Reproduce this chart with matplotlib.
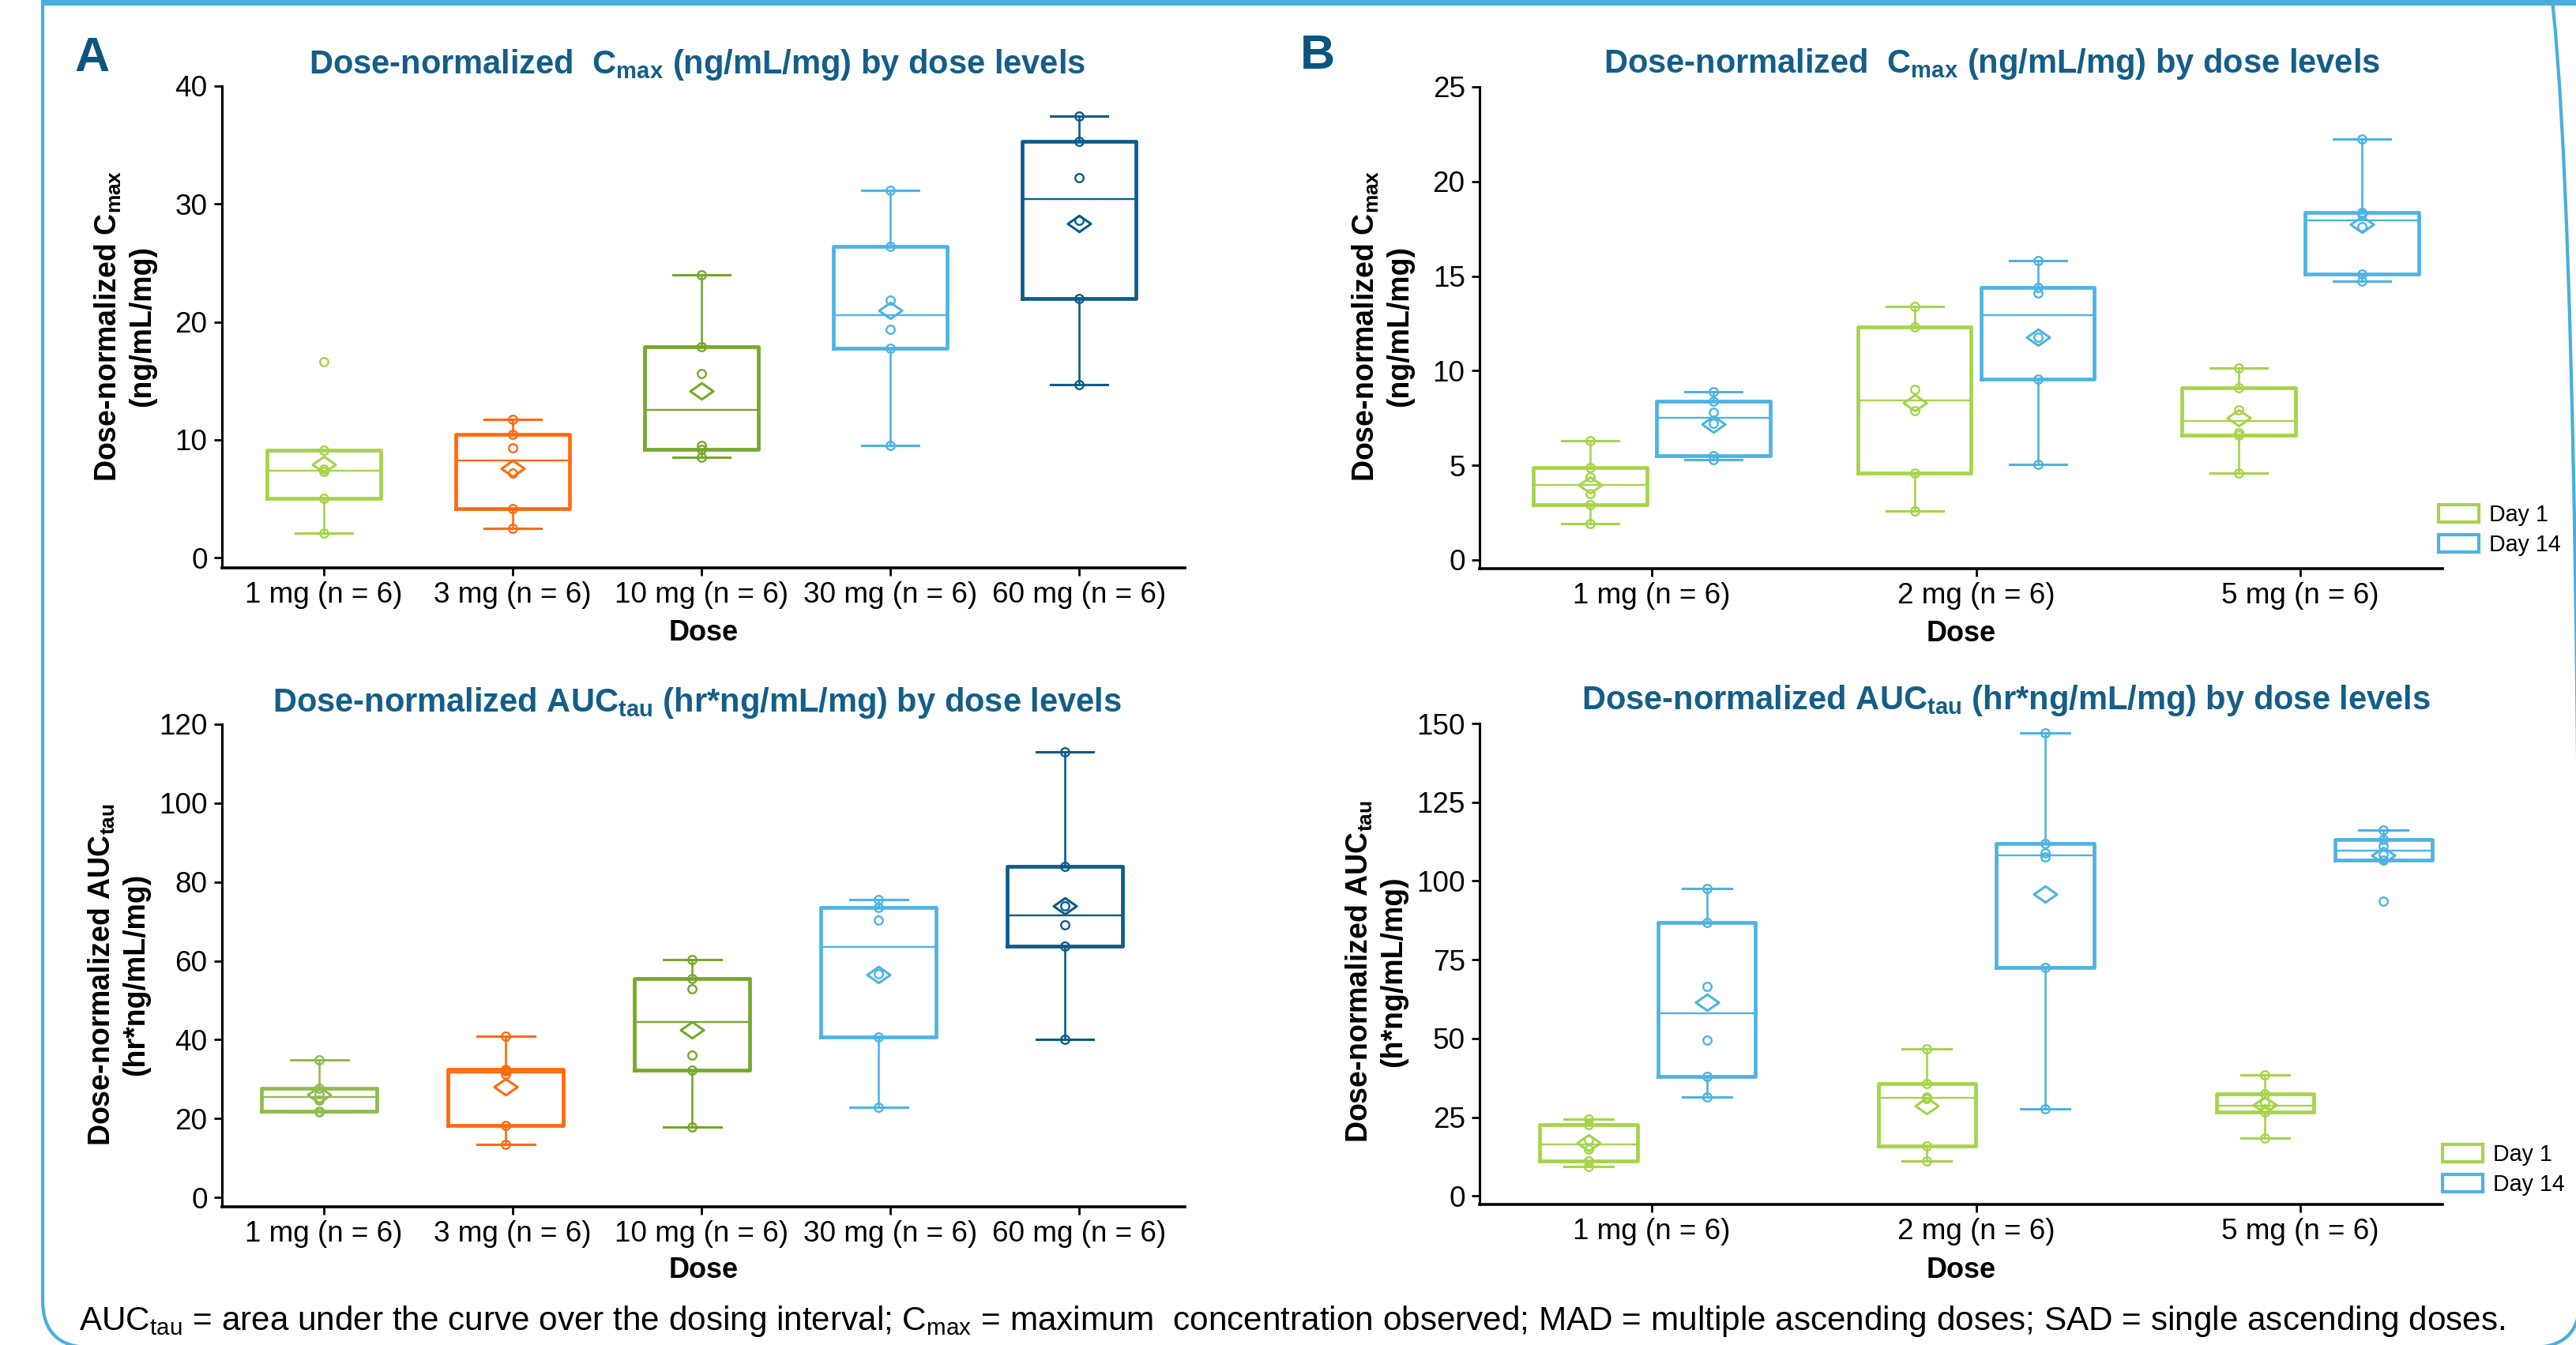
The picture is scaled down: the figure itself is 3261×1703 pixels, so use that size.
import numpy as np
import matplotlib
matplotlib.use('Agg')
import matplotlib.pyplot as plt
from matplotlib.patches import Patch, FancyBboxPatch, Rectangle
from matplotlib.path import Path
from matplotlib.transforms import IdentityTransform

plt.rcParams['font.family'] = ['Liberation Sans', 'DejaVu Sans']

W, H, DPI = 3262, 1703, 200

# ---- data (individual subject values) ----
sad_doses = ['1 mg (n = 6)', '3 mg (n = 6)', '10 mg (n = 6)', '30 mg (n = 6)', '60 mg (n = 6)']
sad_cmax = [
    [2.1, 5.0, 7.3, 7.5, 9.1, 16.6],
    [2.5, 4.15, 7.2, 9.3, 10.45, 11.7],
    [8.5, 9.2, 9.5, 15.6, 17.9, 24.0],
    [9.5, 17.75, 19.35, 21.85, 26.4, 31.15],
    [14.7, 22.0, 28.6, 32.2, 35.3, 37.45],
]
sad_auc = [
    [21.6, 21.8, 24.6, 26.2, 27.7, 34.9],
    [13.4, 18.3, 31.3, 32.0, 32.5, 40.8],
    [17.8, 32.2, 36.1, 52.9, 55.5, 60.4],
    [22.8, 40.6, 56.6, 70.3, 73.5, 75.6],
    [40.0, 63.7, 69.2, 74.0, 83.9, 113.0],
]

mad_doses = ['1 mg (n = 6)', '2 mg (n = 6)', '5 mg (n = 6)']
mad_cmax_day1 = [
    [1.9, 2.9, 3.5, 4.4, 4.9, 6.3],
    [2.6, 4.6, 7.9, 9.0, 12.3, 13.4],
    [4.6, 6.6, 6.7, 7.95, 9.1, 10.15],
]
mad_cmax_day14 = [
    [5.3, 5.5, 7.2, 7.8, 8.4, 8.9],
    [5.05, 9.55, 11.75, 14.1, 14.4, 15.8],
    [14.75, 15.1, 17.6, 18.3, 18.35, 22.25],
]
mad_auc_day1 = [
    [9.4, 11.2, 14.9, 17.9, 22.5, 24.5],
    [11.0, 15.8, 30.8, 31.5, 35.7, 46.8],
    [18.4, 26.7, 27.6, 29.6, 32.4, 38.3],
]
mad_auc_day14 = [
    [31.3, 37.8, 49.5, 66.6, 86.8, 97.5],
    [27.6, 72.5, 107.5, 108.8, 112.0, 147.0],
    [93.6, 106.7, 108.3, 111.2, 113.1, 116.1],
]

# ---- styling ----
TITLE_C = '#145E88'
BORDER_C = '#4AAEDC'
sad_cmax_colors = ['#A5D34B', '#FF6A0D', '#76A82A', '#4DB4E3', '#0B5C89']
sad_auc_colors = ['#8FBB4F', '#FF6A0D', '#76A82A', '#4DB4E3', '#0B5C89']
DAY1_C = '#A5D44A'
DAY14_C = '#4DB3E2'

MEAN_MARKER = Path([(-1, 0), (0, 0.7), (1, 0), (0, -0.7), (-1, 0)], closed=True)


def box_stats(vals):
    v = np.sort(np.asarray(vals, float))
    q1, med, q3 = np.percentile(v, [25, 50, 75], method='averaged_inverted_cdf')
    iqr = q3 - q1
    lo = v[v >= q1 - 1.5 * iqr].min()
    hi = v[v <= q3 + 1.5 * iqr].max()
    return dict(q1=q1, med=med, q3=q3, whislo=lo, whishi=hi, mean=v.mean(), fliers=[])


def draw_group(ax, vals, pos, width, color):
    st = box_stats(vals)
    ax.bxp([st], positions=[pos], widths=width, capwidths=width / 2,
           showfliers=False, manage_ticks=False,
           boxprops=dict(color=color, linewidth=1.7),
           medianprops=dict(color=color, linewidth=0.85),
           whiskerprops=dict(color=color, linewidth=0.95),
           capprops=dict(color=color, linewidth=1.1))
    ax.plot([pos] * len(vals), vals, 'o', ms=3.8, mfc='none', mec=color, mew=0.85, zorder=4)
    ax.plot([pos], [st['mean']], marker=MEAN_MARKER, ms=10.5, mfc='none',
            mec=color, mew=1.1, zorder=4, linestyle='none')


def fx(px):
    return px / W


def fy(py):
    return 1 - py / H


def setup(ax, labels, xlim, ylim, yticks, ylabel, ylab_xy, title, title_xy, xlab_y):
    for s in ['top', 'right']:
        ax.spines[s].set_visible(False)
    ax.spines['left'].set_linewidth(1.1)
    ax.spines['bottom'].set_linewidth(1.3)
    ax.set_xlim(*xlim)
    ax.set_ylim(*ylim)
    ax.set_xticks(range(len(labels)))
    ax.set_xticklabels(labels)
    ax.set_yticks(yticks)
    ax.tick_params(axis='both', length=3.6, width=1.0, labelsize=13.3, direction='out')
    ax.tick_params(axis='x', pad=2.5)
    ax.tick_params(axis='y', pad=3)
    ax.set_xlabel('Dose', fontsize=13, fontweight='bold', va='baseline')
    ax.xaxis.set_label_coords(fx((ax_px[ax][0] + ax_px[ax][1]) / 2), fy(xlab_y),
                              transform=fig.transFigure)
    ax.set_ylabel(ylabel, fontsize=13.5, fontweight='bold', ha='center', va='center',
                  linespacing=1.2)
    ax.yaxis.set_label_coords(fx(ylab_xy[0]), fy(ylab_xy[1]), transform=fig.transFigure)
    fig.text(fx(title_xy[0]), fy(title_xy[1]), title, fontsize=15, fontweight='bold',
             color=TITLE_C, ha='center', va='baseline')


fig = plt.figure(figsize=(W / DPI, H / DPI), dpi=DPI)

# axes rectangles in pixels: left, right, top, bottom
ax_px = {}
rects = {
    'A1': (281, 1500, 109, 719),
    'A2': (281, 1500, 917, 1528),
    'B1': (1873, 3092, 110, 720),
    'B2': (1873, 3092, 916, 1525),
}
axes = {}
for k, (l, r, t, b) in rects.items():
    ax = fig.add_axes([fx(l), fy(b), (r - l) / W, (b - t) / H])
    axes[k] = ax
    ax_px[ax] = (l, r)

cmax_title = r'Dose-normalized  C$_{\mathregular{max}}$ (ng/mL/mg) by dose levels'
auc_title = r'Dose-normalized AUC$_{\mathregular{tau}}$ (hr*ng/mL/mg) by dose levels'

# ---- Panel A: SAD ----
ax = axes['A1']
for i, vals in enumerate(sad_cmax):
    draw_group(ax, vals, i, 0.6, sad_cmax_colors[i])
setup(ax, sad_doses, (-0.54, 4.56), (-0.87, 40), [0, 10, 20, 30, 40],
      'Dose-normalized C$_{\\mathregular{max}}$\n(ng/mL/mg)', (158, 413),
      cmax_title, (883, 93), 811)

ax = axes['A2']
for i, vals in enumerate(sad_auc):
    draw_group(ax, vals, i * 0.987 - 0.024, 0.61, sad_auc_colors[i])
setup(ax, sad_doses, (-0.54, 4.56), (-2.4, 120), [0, 20, 40, 60, 80, 100, 120],
      'Dose-normalized AUC$_{\\mathregular{tau}}$\n(hr*ng/mL/mg)', (150, 1234),
      auc_title, (882, 901), 1618)

# ---- Panel B: MAD ----
ax = axes['B1']
for i in range(len(mad_doses)):
    draw_group(ax, mad_cmax_day1[i], i - 0.19, 0.35, DAY1_C)
    draw_group(ax, mad_cmax_day14[i], i + 0.19, 0.35, DAY14_C)
setup(ax, mad_doses, (-0.531, 2.438), (-0.46, 25), [0, 5, 10, 15, 20, 25],
      'Dose-normalized C$_{\\mathregular{max}}$\n(ng/mL/mg)', (1750, 413),
      cmax_title, (2522, 92), 812)

ax = axes['B2']
for i in range(len(mad_doses)):
    draw_group(ax, mad_auc_day1[i], i * 1.043 - 0.195, 0.30, DAY1_C)
    draw_group(ax, mad_auc_day14[i], i * 1.043 + 0.17, 0.30, DAY14_C)
setup(ax, mad_doses, (-0.531, 2.438), (-2.7, 150), [0, 25, 50, 75, 100, 125, 150],
      'Dose-normalized AUC$_{\\mathregular{tau}}$\n(h*ng/mL/mg)', (1742, 1230),
      auc_title, (2539, 898), 1618)

# legends
for key, top, left in [('B1', 638, 3087), ('B2', 1448, 3092)]:
    handles = [Patch(facecolor='white', edgecolor=DAY1_C, linewidth=1.5, label='Day 1'),
               Patch(facecolor='white', edgecolor=DAY14_C, linewidth=1.5, label='Day 14')]
    axes[key].legend(handles=handles, loc='upper left', bbox_to_anchor=(fx(left), fy(top)),
                     bbox_transform=fig.transFigure, frameon=False, fontsize=10.3,
                     handlelength=1.8, handleheight=0.8, handletextpad=0.45,
                     labelspacing=0.36, borderpad=0, borderaxespad=0)

# panel letters
fig.text(fx(117), fy(90), 'A', fontsize=22, fontweight='bold', color='#0B5580',
         ha='center', va='baseline')
fig.text(fx(1668), fy(87), 'B', fontsize=22, fontweight='bold', color='#0B5580',
         ha='center', va='baseline')

# footnote
fig.text(fx(100), fy(1684),
         r'AUC$_{\mathregular{tau}}$ = area under the curve over the dosing interval; '
         r'C$_{\mathregular{max}}$ = maximum  concentration observed; '
         'MAD = multiple ascending doses; SAD = single ascending doses.',
         fontsize=15.2, ha='left', va='baseline')

# frame around the figure
frame = FancyBboxPatch((54, -3), 3266 - 54, 1803, boxstyle='round,pad=0,rounding_size=60',
                       transform=IdentityTransform(), fill=False, edgecolor=BORDER_C,
                       linewidth=1.5)
fig.add_artist(frame)
fig.add_artist(Rectangle((52, H - 7), W - 52, 8, transform=IdentityTransform(),
                         facecolor=BORDER_C, edgecolor='none'))

fig.savefig('out.png', dpi=DPI, facecolor='white')
